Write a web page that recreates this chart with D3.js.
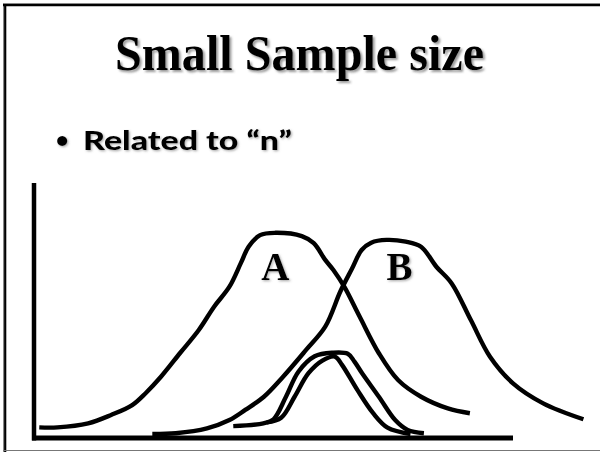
<!DOCTYPE html>
<html>
<head>
<meta charset="utf-8">
<script src="https://cdn.jsdelivr.net/npm/d3@7"></script>
<style>
  html, body { margin: 0; padding: 0; background: #fff; }
  svg { display: block; }
</style>
</head>
<body>
<div id="chart"></div>
<script>
// Slide text
const titleText = "Small Sample size";
const bulletText = "Related to \u201Cn\u201D";

// Curve labels and where they sit (in axis units)
const labelNames = ["A", "B"];
const labelX = [50.4, 76.3];
const labelY = [62.5, 62.5];

// Wide distribution A, as [x, density] pairs
const curveA = [
  [1.1, 4.2], [4.9, 4.2], [11.3, 5.8], [16.1, 9.1], [20.5, 13.0], [23.3, 17.7],
  [26.5, 24.2], [30.5, 33.6], [34.4, 42.7], [37.6, 51.9], [40.8, 59.8], [43.2, 69.2],
  [44.8, 75.6], [47.2, 80.2], [50.4, 81.1], [55.9, 79.8], [58.4, 77.0], [60.8, 70.4],
  [62.5, 66.4], [64.8, 59.7], [68.0, 47.9], [72.0, 33.5], [76.0, 22.9], [80.8, 16.3],
  [86.4, 11.7], [91.0, 9.8]
];

// Wide distribution B
const curveB = [
  [24.7, 1.6], [29.6, 1.9], [36.1, 3.8], [40.8, 7.1], [44.1, 11.1], [48.0, 16.3],
  [52.0, 24.2], [56.8, 34.8], [60.8, 44.0], [64.0, 58.1], [66.4, 67.0], [68.4, 74.3],
  [70.4, 77.2], [73.6, 78.3], [77.6, 77.6], [80.8, 75.6], [84.0, 67.7], [87.2, 61.1],
  [91.2, 46.6], [95.2, 32.1], [100.0, 21.6], [106.3, 13.7], [114.7, 7.4]
];

// Narrow (small sample) distributions, drawn as a pair of close outlines
const narrowOuter = [
  [41.6, 4.7], [47.9, 5.8], [50.0, 7.4], [52.6, 16.3], [55.2, 26.2], [58.6, 32.3],
  [62.3, 33.7], [65.5, 33.3], [66.9, 30.2], [68.5, 25.6], [72.0, 16.3], [75.4, 7.1],
  [78.0, 3.2], [81.4, 1.9]
];
const narrowInner = [
  [48.6, 6.2], [51.6, 8.0], [54.4, 16.3], [57.3, 25.6], [60.2, 30.6], [62.8, 32.2],
  [64.3, 28.9], [67.5, 19.0], [70.8, 9.8], [73.8, 4.1], [78.6, 1.6]
];

const W = 600, H = 452;
const svg = d3.select("#chart").append("svg")
  .attr("width", W).attr("height", H)
  .attr("viewBox", `0 0 ${W} ${H}`);

// Soft drop shadows for the slide text
const defs = svg.append("defs");
const sh = defs.append("filter").attr("id", "shadow")
  .attr("x", "-10%").attr("y", "-20%").attr("width", "130%").attr("height", "150%");
sh.append("feDropShadow").attr("dx", 2).attr("dy", 2).attr("stdDeviation", 1)
  .attr("flood-color", "#555").attr("flood-opacity", 0.6);
const sh2 = defs.append("filter").attr("id", "shadowSoft")
  .attr("x", "-10%").attr("y", "-20%").attr("width", "130%").attr("height", "150%");
sh2.append("feDropShadow").attr("dx", 1.2).attr("dy", 1.2).attr("stdDeviation", 0.9)
  .attr("flood-color", "#666").attr("flood-opacity", 0.55);

// Slide frame
svg.append("line").attr("x1", 3.5).attr("x2", 3.5).attr("y1", 3).attr("y2", 452)
  .attr("stroke", "#888").attr("stroke-width", 1);
svg.append("line").attr("x1", 5.2).attr("x2", 5.2).attr("y1", 3).attr("y2", 452)
  .attr("stroke", "#000").attr("stroke-width", 2.2);
svg.append("line").attr("x1", 3).attr("x2", W).attr("y1", 3.5).attr("y2", 3.5)
  .attr("stroke", "#888").attr("stroke-width", 1);
svg.append("line").attr("x1", 3).attr("x2", W).attr("y1", 5.2).attr("y2", 5.2)
  .attr("stroke", "#000").attr("stroke-width", 2.2);
svg.append("line").attr("x1", 3).attr("x2", W).attr("y1", 450.5).attr("y2", 450.5)
  .attr("stroke", "#777").attr("stroke-width", 1);

// Title
svg.append("text")
  .attr("x", 115).attr("y", 70)
  .attr("font-family", "'Liberation Serif', 'Times New Roman', serif")
  .attr("font-weight", "bold")
  .attr("font-size", 51)
  .attr("textLength", 369).attr("lengthAdjust", "spacingAndGlyphs")
  .attr("filter", "url(#shadow)")
  .text(titleText);

// Bullet line
svg.append("text")
  .attr("x", 55.5).attr("y", 148)
  .attr("font-family", "Lato, 'Open Sans', sans-serif")
  .attr("font-weight", "bold")
  .attr("font-size", 23)
  .attr("filter", "url(#shadowSoft)")
  .text("\u2022");
svg.append("text")
  .attr("x", 83).attr("y", 150)
  .attr("font-family", "Lato, 'Open Sans', sans-serif")
  .attr("font-weight", 900)
  .attr("font-size", 26)
  .attr("textLength", 209).attr("lengthAdjust", "spacingAndGlyphs")
  .attr("filter", "url(#shadowSoft)")
  .text(bulletText);

// Scales
const x = d3.scaleLinear().domain([0, 100]).range([34, 513]);
const y = d3.scaleLinear().domain([0, 100]).range([438, 185]);

// Axes (plain lines, no ticks)
const g = svg.append("g");
g.append("line")
  .attr("x1", x(0)).attr("x2", x(0))
  .attr("y1", y(0) + 2.5).attr("y2", y(100) - 2)
  .attr("stroke", "#000").attr("stroke-width", 4.5);
g.append("line")
  .attr("x1", x(0) - 2).attr("x2", x(100))
  .attr("y1", y(0)).attr("y2", y(0))
  .attr("stroke", "#000").attr("stroke-width", 5);

// Distribution outlines
const line = d3.line()
  .x(d => x(d[0])).y(d => y(d[1]))
  .curve(d3.curveCatmullRom.alpha(0.5));

const series = [curveA, curveB, narrowOuter, narrowInner];
g.selectAll("path.curve")
  .data(series)
  .join("path")
  .attr("class", "curve")
  .attr("d", line)
  .attr("fill", "none")
  .attr("stroke", "#000")
  .attr("stroke-width", 4.4)
  .attr("stroke-linejoin", "round")
  .attr("stroke-linecap", "butt");

// Curve labels
g.selectAll("text.lbl")
  .data(labelNames)
  .join("text")
  .attr("class", "lbl")
  .attr("x", (d, i) => x(labelX[i]))
  .attr("y", (d, i) => y(labelY[i]))
  .attr("text-anchor", "middle")
  .attr("font-family", "'Liberation Serif', 'Times New Roman', serif")
  .attr("font-weight", "bold")
  .attr("font-size", 39)
  .attr("filter", "url(#shadowSoft)")
  .text(d => d);
</script>
</body>
</html>
